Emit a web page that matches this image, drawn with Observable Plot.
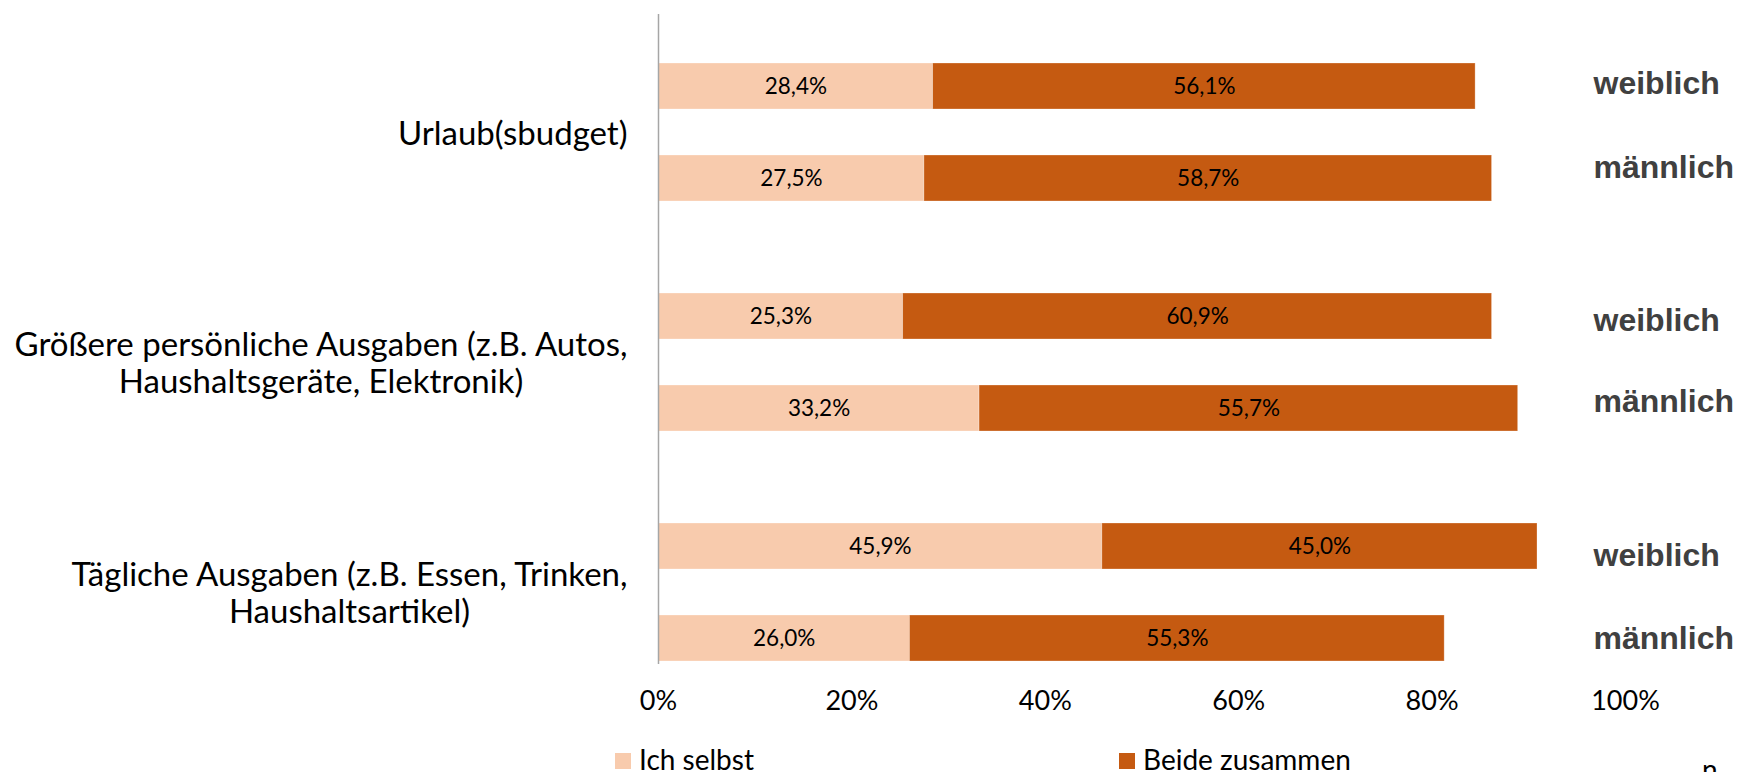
<!DOCTYPE html>
<html>
<head>
<meta charset="utf-8">
<script src="https://cdn.jsdelivr.net/npm/d3@7"></script>
<script src="https://cdn.jsdelivr.net/npm/@observablehq/plot@0.6"></script>
<style>
  html, body { margin: 0; padding: 0; background: #fff; overflow: hidden; }
  #wrap { position: relative; width: 1737px; height: 772px; overflow: hidden; font-family: Lato, sans-serif; }
  #chart svg { display: block; }
  .leg { position: absolute; font-family: Lato, sans-serif; font-size: 28px; line-height: 28px; color: #000; white-space: nowrap; }
  .sw { position: absolute; width: 16px; height: 16px; }
</style>
</head>
<body>
<div id="wrap">
  <div id="chart"></div>
</div>
<script>
// ---- data ----
const categories = [
  "Urlaub(sbudget)",
  "Größere persönliche Ausgaben (z.B. Autos,\nHaushaltsgeräte, Elektronik)",
  "Tägliche Ausgaben (z.B. Essen, Trinken,\nHaushaltsartikel)"
];
const genders = ["weiblich", "männlich"];
const seriesNames = ["Ich selbst", "Beide zusammen"];
// order: per category, weiblich then männlich
const ichSelbst      = [28.4, 27.5, 25.3, 33.2, 45.9, 26.0];
const beideZusammen  = [56.1, 58.7, 60.9, 55.7, 45.0, 55.3];
const xTicks = [0, 20, 40, 60, 80, 100];
const seriesColors = ["#F8CBAD", "#C55A11"];
const footNote = "n";

// ---- layout (not data): small vertical nudges of the hand-placed gender labels ----
const genderLabelNudge = [-3, -11, 4, -7, 9, 0];

// ---- build tables ----
const keyOf = (i, g) => `c${i}|${g}`;
const rows = [];
const genderRows = [];
categories.forEach((c, i) => {
  genders.forEach((g, j) => {
    const k = i * 2 + j;
    genderRows.push({key: keyOf(i, g), gender: g});
    rows.push({key: keyOf(i, g), series: seriesNames[0], value: ichSelbst[k]});
    rows.push({key: keyOf(i, g), series: seriesNames[1], value: beideZusammen[k]});
  });
});
// band domain: spacer slots between bars and groups
const yDomain = [];
const catRows = [];
categories.forEach((c, i) => {
  if (i > 0) yDomain.push(`gap${i}a`);
  yDomain.push(`gap${i}b`, keyOf(i, "weiblich"), `mid${i}`, keyOf(i, "männlich"));
  catRows.push({key: `mid${i}`, label: c});
});

const fmt = v => v.toFixed(1).replace(".", ",") + "%";

const genderMarks = genderRows.map((r, i) =>
  Plot.text([r], {y: "key", text: "gender", frameAnchor: "right", dx: -32, dy: genderLabelNudge[i],
    textAnchor: "start", fontFamily: "Liberation Sans, Arial, sans-serif", fontWeight: "bold",
    fontSize: 32, fill: "#404040"}));

const plot = Plot.plot({
  width: 1737,
  height: 740,
  marginLeft: 658,
  marginRight: 112,
  marginTop: 14,
  marginBottom: 76,
  style: {fontFamily: "Lato, sans-serif", background: "#fff"},
  x: {domain: [0, 100], axis: null, label: null},
  y: {domain: yDomain, padding: 0, axis: null, label: null},
  color: {domain: seriesNames, range: seriesColors},
  marks: [
    Plot.barX(rows, {x: "value", y: "key", fill: "series", stroke: "#fff", strokeOpacity: 0.35, strokeWidth: 0.8}),
    Plot.textX(rows, Plot.stackX({x: "value", y: "key", z: "series", text: d => fmt(d.value),
      fontSize: 22.5, fill: "#000"})),
    Plot.ruleX([0], {stroke: "#A6A6A6", strokeWidth: 1.5}),
    Plot.axisX({ticks: xTicks, tickFormat: d => d + "%", tickSize: 0, tickPadding: 26,
      fontSize: 27, fill: "#000", anchor: "bottom", label: null}),
    Plot.text(catRows, {y: "key", text: "label", frameAnchor: "left", dx: -31, textAnchor: "end",
      fontSize: 33, fill: "#000", lineHeight: 1.14, className: "cat-label"}),
    ...genderMarks
  ]
});

document.getElementById("chart").appendChild(plot);

// center multi-line category labels within their right-aligned block
plot.querySelectorAll("g.cat-label text").forEach(t => {
  const b = t.getBBox();
  t.setAttribute("text-anchor", "middle");
  t.setAttribute("transform", (t.getAttribute("transform") || "") + ` translate(${-b.width / 2},0)`);
});

// ---- legend below the svg ----
const wrap = document.getElementById("wrap");
const legendPos = [615, 1119];
seriesNames.forEach((s, i) => {
  const sw = document.createElement("div");
  sw.className = "sw";
  sw.style.left = legendPos[i] + "px";
  sw.style.top = "753px";
  sw.style.background = seriesColors[i];
  wrap.appendChild(sw);
  const tx = document.createElement("div");
  tx.className = "leg";
  tx.style.left = (legendPos[i] + 24) + "px";
  tx.style.top = "745px";
  tx.textContent = s;
  wrap.appendChild(tx);
});
const n = document.createElement("div");
n.className = "leg";
n.style.left = "1702px";
n.style.top = "755px";
n.textContent = footNote;
wrap.appendChild(n);
</script>
</body>
</html>
